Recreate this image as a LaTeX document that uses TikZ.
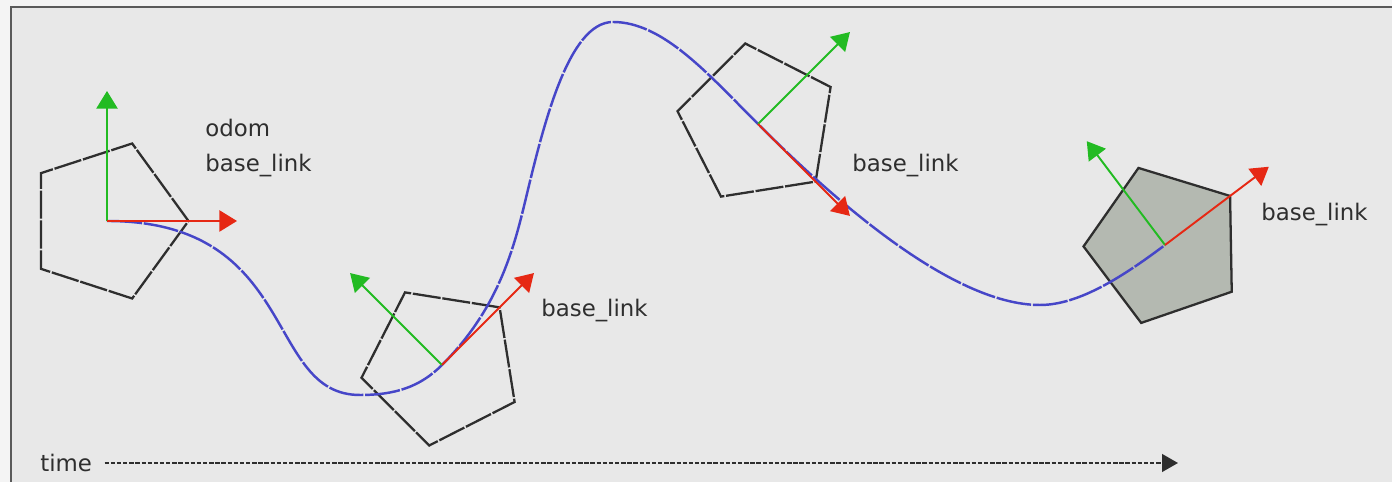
\documentclass[tikz,border=0pt]{standalone}
\usepackage{fontspec}
\setmainfont{DejaVu Sans}
\usetikzlibrary{arrows.meta,calc,shapes.geometric}
\definecolor{bg}{HTML}{E8E8E8}
\definecolor{edge}{HTML}{5A5A5A}
\definecolor{ink}{HTML}{2E2E2E}
\definecolor{traj}{HTML}{4646C8}
\definecolor{xaxis}{HTML}{E62814}
\definecolor{yaxis}{HTML}{22BB22}
\definecolor{body}{HTML}{B4B9B1}

\begin{document}
\begin{tikzpicture}[x=.02cm,y=.02cm,
  lbl/.style={anchor=west,inner sep=0,text=ink,font=\fontsize{13}{15}\selectfont},
  pent/.style={regular polygon,regular polygon sides=5,minimum size=3.26cm,inner sep=0,line width=1.3pt,draw=ink},
  robot/.style={pent,dash pattern=on 16pt off 1pt},
  trajline/.style={traj,line width=1.4pt,dash pattern=on 20pt off 1pt},
  axis/.style={line width=1.1pt,-{Triangle[length=10pt,width=12pt]}}]
\useasboundingbox (0,0) rectangle (1392,482);
\fill[bg!50!white] (0,0) rectangle (1392,482);
\fill[bg] (11,0) rectangle (1392,475);
\draw[edge,line width=1.6pt] (11,0) -- (11,475) -- (1392,475);
\foreach \n/\x/\y/\a in {1/107/261/0,2/442/117/45,3/758/358/-45,4/1165/237/37}{
  \coordinate (o\n) at (\x,\y);
  \coordinate (x\n) at ($(o\n)+(\a:130)$);
  \coordinate (y\n) at ($(o\n)+(\a+90:130)$);}
\coordinate (m1) at (360,87);
\coordinate (q) at (525,280);
\coordinate (top) at (613,460);
\coordinate (m2) at (1040,177);
\foreach \n/\a in {1/0,2/45,3/-45}{\node[robot,rotate=\a-90] (body\n) at (o\n) {};}
\node[pent,fill=body,rotate=37-90] (body4) at (o4) {};
\draw[trajline] (o1) .. controls +(193,0) and +(-96,0) .. (m1) .. controls +(35,0) and +(-22,-22) .. (o2)
  .. controls +(55,55) and +(-12,-50) .. (q) .. controls +(18,75) and +(-45,0) .. (top)
  .. controls +(50,0) and +(-50,50) .. (o3) .. controls +(70,-70) and +(-90,0) .. (m2)
  .. controls +(40,0) and +(-40,-30) .. (o4);
\foreach \n in {1,2,3,4}{
  \draw[axis,yaxis] (o\n) -- (y\n);
  \draw[axis,xaxis] (o\n) -- (x\n);}
\node[lbl] (odom) at (205,354) {odom};
\node[lbl] (lbl1) at (205,316) {base\_link};
\node[lbl] (lbl2) at (541,171) {base\_link};
\node[lbl] (lbl3) at (852,316) {base\_link};
\node[lbl] (lbl4) at (1261,267) {base\_link};
\node[lbl] (time) at (40,19) {time};
\coordinate (tend) at (1178,19);
\draw[ink,line width=1.1pt,dash pattern=on 2.5pt off 1pt,shorten <=7pt,-{Triangle[length=9pt,width=10pt]}] (time.east) -- (tend);
\end{tikzpicture}
\end{document}
